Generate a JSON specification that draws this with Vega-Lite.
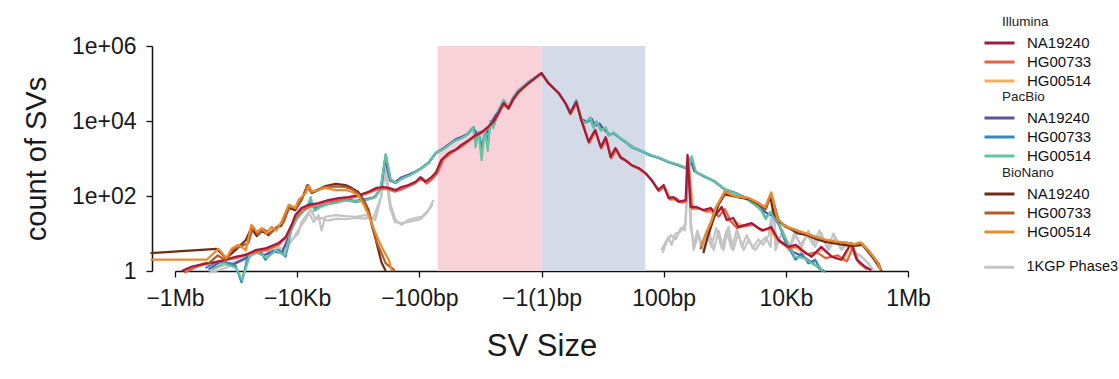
{
"$schema": "https://vega.github.io/schema/vega-lite/v6.json",
"width": 733, "height": 225,
"autosize": {"type": "none"},
"padding": {"left": 175, "top": 46, "right": 211, "bottom": 108},
"background": "white",
"config": {
  "view": {"stroke": null},
  "font": "Liberation Sans",
  "legend": {"orient": "none", "labelFontSize": 15, "labelColor": "#111", "titleFontSize": 13.5, "titleFontWeight": "normal", "titleColor": "#222", "titleAnchor": "start", "titlePadding": 7, "symbolType": "M-5,0H1", "symbolSize": 100, "symbolStrokeWidth": 3, "labelOffset": 10, "rowPadding": 3}
},
"datasets": {
  "bands": [
    {"region": "deletions", "size_log": -1.7, "size_log_end": 0, "count": 1, "count_end": 1000000},
    {"region": "insertions", "size_log": 0, "size_log_end": 1.7, "count": 1, "count_end": 1000000}
  ],
  "lines": [
{"platform":"Illumina","sample":"HG00514","seg":"a","size_log":-5.8,"count":1.1},
{"platform":"Illumina","sample":"HG00514","seg":"a","size_log":-5.5,"count":1.5},
{"platform":"Illumina","sample":"HG00514","seg":"a","size_log":-5.2,"count":1.9},
{"platform":"Illumina","sample":"HG00514","seg":"a","size_log":-4.9,"count":2.6},
{"platform":"Illumina","sample":"HG00514","seg":"a","size_log":-4.6,"count":3.4},
{"platform":"Illumina","sample":"HG00514","seg":"a","size_log":-4.35,"count":5.2},
{"platform":"Illumina","sample":"HG00514","seg":"a","size_log":-4.2,"count":7},
{"platform":"Illumina","sample":"HG00514","seg":"a","size_log":-4.07,"count":20},
{"platform":"Illumina","sample":"HG00514","seg":"a","size_log":-3.95,"count":40},
{"platform":"Illumina","sample":"HG00514","seg":"a","size_log":-3.8,"count":52},
{"platform":"Illumina","sample":"HG00514","seg":"a","size_log":-3.6,"count":62},
{"platform":"Illumina","sample":"HG00514","seg":"a","size_log":-3.4,"count":76},
{"platform":"Illumina","sample":"HG00514","seg":"a","size_log":-3.2,"count":86},
{"platform":"Illumina","sample":"HG00514","seg":"a","size_log":-3.0,"count":98},
{"platform":"Illumina","sample":"HG00514","seg":"a","size_log":-2.8,"count":125},
{"platform":"Illumina","sample":"HG00514","seg":"a","size_log":-2.65,"count":158},
{"platform":"Illumina","sample":"HG00514","seg":"a","size_log":-2.5,"count":150},
{"platform":"Illumina","sample":"HG00514","seg":"a","size_log":-2.35,"count":140},
{"platform":"Illumina","sample":"HG00514","seg":"a","size_log":-2.2,"count":180},
{"platform":"Illumina","sample":"HG00514","seg":"a","size_log":-2.05,"count":230},
{"platform":"Illumina","sample":"HG00514","seg":"a","size_log":-1.95,"count":300},
{"platform":"Illumina","sample":"HG00514","seg":"a","size_log":-1.85,"count":230},
{"platform":"Illumina","sample":"HG00514","seg":"a","size_log":-1.75,"count":330},
{"platform":"Illumina","sample":"HG00514","seg":"a","size_log":-1.65,"count":800},
{"platform":"Illumina","sample":"HG00514","seg":"a","size_log":-1.5,"count":1350},
{"platform":"Illumina","sample":"HG00514","seg":"a","size_log":-1.35,"count":1900},
{"platform":"Illumina","sample":"HG00514","seg":"a","size_log":-1.2,"count":2900},
{"platform":"Illumina","sample":"HG00514","seg":"a","size_log":-1.05,"count":4300},
{"platform":"Illumina","sample":"HG00514","seg":"a","size_log":-0.92,"count":5600},
{"platform":"Illumina","sample":"HG00514","seg":"a","size_log":-0.8,"count":9000},
{"platform":"Illumina","sample":"HG00514","seg":"a","size_log":-0.68,"count":19000},
{"platform":"Illumina","sample":"HG00514","seg":"a","size_log":-0.6,"count":27000},
{"platform":"Illumina","sample":"HG00514","seg":"a","size_log":-0.5,"count":30000},
{"platform":"Illumina","sample":"HG00514","seg":"a","size_log":-0.4,"count":52000},
{"platform":"Illumina","sample":"HG00514","seg":"a","size_log":-0.22,"count":98000},
{"platform":"Illumina","sample":"HG00514","seg":"a","size_log":0,"count":180000},
{"platform":"Illumina","sample":"HG00514","seg":"a","size_log":0.12,"count":98000},
{"platform":"Illumina","sample":"HG00514","seg":"a","size_log":0.3,"count":50000},
{"platform":"Illumina","sample":"HG00514","seg":"a","size_log":0.4,"count":28000},
{"platform":"Illumina","sample":"HG00514","seg":"a","size_log":0.48,"count":15000},
{"platform":"Illumina","sample":"HG00514","seg":"a","size_log":0.58,"count":29000},
{"platform":"Illumina","sample":"HG00514","seg":"a","size_log":0.67,"count":9800},
{"platform":"Illumina","sample":"HG00514","seg":"a","size_log":0.78,"count":2500},
{"platform":"Illumina","sample":"HG00514","seg":"a","size_log":0.89,"count":5000},
{"platform":"Illumina","sample":"HG00514","seg":"a","size_log":0.98,"count":1800},
{"platform":"Illumina","sample":"HG00514","seg":"a","size_log":1.07,"count":3300},
{"platform":"Illumina","sample":"HG00514","seg":"a","size_log":1.15,"count":1050},
{"platform":"Illumina","sample":"HG00514","seg":"a","size_log":1.24,"count":1700},
{"platform":"Illumina","sample":"HG00514","seg":"a","size_log":1.33,"count":980},
{"platform":"Illumina","sample":"HG00514","seg":"a","size_log":1.45,"count":700},
{"platform":"Illumina","sample":"HG00514","seg":"a","size_log":1.58,"count":520},
{"platform":"Illumina","sample":"HG00514","seg":"a","size_log":1.7,"count":390},
{"platform":"Illumina","sample":"HG00514","seg":"a","size_log":1.82,"count":250},
{"platform":"Illumina","sample":"HG00514","seg":"a","size_log":1.93,"count":140},
{"platform":"Illumina","sample":"HG00514","seg":"a","size_log":2.02,"count":170},
{"platform":"Illumina","sample":"HG00514","seg":"a","size_log":2.12,"count":84},
{"platform":"Illumina","sample":"HG00514","seg":"a","size_log":2.25,"count":72},
{"platform":"Illumina","sample":"HG00514","seg":"a","size_log":2.37,"count":74},
{"platform":"Illumina","sample":"HG00514","seg":"a","size_log":2.41,"count":900},
{"platform":"Illumina","sample":"HG00514","seg":"a","size_log":2.48,"count":48},
{"platform":"Illumina","sample":"HG00514","seg":"a","size_log":2.6,"count":45},
{"platform":"Illumina","sample":"HG00514","seg":"a","size_log":2.72,"count":40},
{"platform":"Illumina","sample":"HG00514","seg":"a","size_log":2.83,"count":33},
{"platform":"Illumina","sample":"HG00514","seg":"a","size_log":2.95,"count":46},
{"platform":"Illumina","sample":"HG00514","seg":"a","size_log":3.05,"count":22},
{"platform":"Illumina","sample":"HG00514","seg":"a","size_log":3.18,"count":20},
{"platform":"Illumina","sample":"HG00514","seg":"a","size_log":3.3,"count":16},
{"platform":"Illumina","sample":"HG00514","seg":"a","size_log":3.45,"count":18},
{"platform":"Illumina","sample":"HG00514","seg":"a","size_log":3.58,"count":13},
{"platform":"Illumina","sample":"HG00514","seg":"a","size_log":3.72,"count":13},
{"platform":"Illumina","sample":"HG00514","seg":"a","size_log":3.85,"count":7},
{"platform":"Illumina","sample":"HG00514","seg":"a","size_log":4.0,"count":4.8},
{"platform":"Illumina","sample":"HG00514","seg":"a","size_log":4.15,"count":4.2},
{"platform":"Illumina","sample":"HG00514","seg":"a","size_log":4.3,"count":3},
{"platform":"Illumina","sample":"HG00514","seg":"a","size_log":4.45,"count":2.6},
{"platform":"Illumina","sample":"HG00514","seg":"a","size_log":4.6,"count":3.8},
{"platform":"Illumina","sample":"HG00514","seg":"a","size_log":4.8,"count":2.2},
{"platform":"Illumina","sample":"HG00514","seg":"a","size_log":4.95,"count":1.9},
{"platform":"Illumina","sample":"HG00514","seg":"a","size_log":5.05,"count":4.8},
{"platform":"Illumina","sample":"HG00514","seg":"a","size_log":5.18,"count":1.8},
{"platform":"Illumina","sample":"HG00514","seg":"a","size_log":5.35,"count":1.1},
{"platform":"Illumina","sample":"HG00733","seg":"a","size_log":-5.85,"count":0.9},
{"platform":"Illumina","sample":"HG00733","seg":"a","size_log":-5.6,"count":1.4},
{"platform":"Illumina","sample":"HG00733","seg":"a","size_log":-5.3,"count":1.8},
{"platform":"Illumina","sample":"HG00733","seg":"a","size_log":-5.0,"count":2.2},
{"platform":"Illumina","sample":"HG00733","seg":"a","size_log":-4.75,"count":3},
{"platform":"Illumina","sample":"HG00733","seg":"a","size_log":-4.5,"count":3.6},
{"platform":"Illumina","sample":"HG00733","seg":"a","size_log":-4.3,"count":5},
{"platform":"Illumina","sample":"HG00733","seg":"a","size_log":-4.15,"count":9},
{"platform":"Illumina","sample":"HG00733","seg":"a","size_log":-4.05,"count":22},
{"platform":"Illumina","sample":"HG00733","seg":"a","size_log":-3.93,"count":42},
{"platform":"Illumina","sample":"HG00733","seg":"a","size_log":-3.75,"count":55},
{"platform":"Illumina","sample":"HG00733","seg":"a","size_log":-3.5,"count":70},
{"platform":"Illumina","sample":"HG00733","seg":"a","size_log":-3.3,"count":80},
{"platform":"Illumina","sample":"HG00733","seg":"a","size_log":-3.1,"count":90},
{"platform":"Illumina","sample":"HG00733","seg":"a","size_log":-2.9,"count":112},
{"platform":"Illumina","sample":"HG00733","seg":"a","size_log":-2.7,"count":150},
{"platform":"Illumina","sample":"HG00733","seg":"a","size_log":-2.55,"count":160},
{"platform":"Illumina","sample":"HG00733","seg":"a","size_log":-2.4,"count":130},
{"platform":"Illumina","sample":"HG00733","seg":"a","size_log":-2.25,"count":160},
{"platform":"Illumina","sample":"HG00733","seg":"a","size_log":-2.1,"count":205},
{"platform":"Illumina","sample":"HG00733","seg":"a","size_log":-1.97,"count":290},
{"platform":"Illumina","sample":"HG00733","seg":"a","size_log":-1.88,"count":215},
{"platform":"Illumina","sample":"HG00733","seg":"a","size_log":-1.78,"count":290},
{"platform":"Illumina","sample":"HG00733","seg":"a","size_log":-1.7,"count":420},
{"platform":"Illumina","sample":"HG00733","seg":"a","size_log":-1.6,"count":980},
{"platform":"Illumina","sample":"HG00733","seg":"a","size_log":-1.45,"count":1500},
{"platform":"Illumina","sample":"HG00733","seg":"a","size_log":-1.3,"count":2100},
{"platform":"Illumina","sample":"HG00733","seg":"a","size_log":-1.15,"count":3300},
{"platform":"Illumina","sample":"HG00733","seg":"a","size_log":-1.0,"count":4600},
{"platform":"Illumina","sample":"HG00733","seg":"a","size_log":-0.88,"count":6500},
{"platform":"Illumina","sample":"HG00733","seg":"a","size_log":-0.75,"count":11000},
{"platform":"Illumina","sample":"HG00733","seg":"a","size_log":-0.62,"count":28000},
{"platform":"Illumina","sample":"HG00733","seg":"a","size_log":-0.54,"count":21000},
{"platform":"Illumina","sample":"HG00733","seg":"a","size_log":-0.46,"count":37000},
{"platform":"Illumina","sample":"HG00733","seg":"a","size_log":-0.36,"count":62000},
{"platform":"Illumina","sample":"HG00733","seg":"a","size_log":-0.2,"count":105000},
{"platform":"Illumina","sample":"HG00733","seg":"a","size_log":0,"count":185000},
{"platform":"Illumina","sample":"HG00733","seg":"a","size_log":0.12,"count":100000},
{"platform":"Illumina","sample":"HG00733","seg":"a","size_log":0.28,"count":54000},
{"platform":"Illumina","sample":"HG00733","seg":"a","size_log":0.4,"count":29000},
{"platform":"Illumina","sample":"HG00733","seg":"a","size_log":0.48,"count":15500},
{"platform":"Illumina","sample":"HG00733","seg":"a","size_log":0.57,"count":30000},
{"platform":"Illumina","sample":"HG00733","seg":"a","size_log":0.66,"count":10000},
{"platform":"Illumina","sample":"HG00733","seg":"a","size_log":0.78,"count":2600},
{"platform":"Illumina","sample":"HG00733","seg":"a","size_log":0.88,"count":5400},
{"platform":"Illumina","sample":"HG00733","seg":"a","size_log":0.98,"count":1850},
{"platform":"Illumina","sample":"HG00733","seg":"a","size_log":1.06,"count":3400},
{"platform":"Illumina","sample":"HG00733","seg":"a","size_log":1.14,"count":1000},
{"platform":"Illumina","sample":"HG00733","seg":"a","size_log":1.22,"count":1750},
{"platform":"Illumina","sample":"HG00733","seg":"a","size_log":1.3,"count":1000},
{"platform":"Illumina","sample":"HG00733","seg":"a","size_log":1.4,"count":850},
{"platform":"Illumina","sample":"HG00733","seg":"a","size_log":1.5,"count":620},
{"platform":"Illumina","sample":"HG00733","seg":"a","size_log":1.62,"count":510},
{"platform":"Illumina","sample":"HG00733","seg":"a","size_log":1.72,"count":380},
{"platform":"Illumina","sample":"HG00733","seg":"a","size_log":1.82,"count":240},
{"platform":"Illumina","sample":"HG00733","seg":"a","size_log":1.92,"count":135},
{"platform":"Illumina","sample":"HG00733","seg":"a","size_log":2.0,"count":180},
{"platform":"Illumina","sample":"HG00733","seg":"a","size_log":2.1,"count":80},
{"platform":"Illumina","sample":"HG00733","seg":"a","size_log":2.2,"count":88},
{"platform":"Illumina","sample":"HG00733","seg":"a","size_log":2.3,"count":66},
{"platform":"Illumina","sample":"HG00733","seg":"a","size_log":2.37,"count":72},
{"platform":"Illumina","sample":"HG00733","seg":"a","size_log":2.4,"count":1100},
{"platform":"Illumina","sample":"HG00733","seg":"a","size_log":2.46,"count":46},
{"platform":"Illumina","sample":"HG00733","seg":"a","size_log":2.58,"count":47},
{"platform":"Illumina","sample":"HG00733","seg":"a","size_log":2.7,"count":38},
{"platform":"Illumina","sample":"HG00733","seg":"a","size_log":2.8,"count":44},
{"platform":"Illumina","sample":"HG00733","seg":"a","size_log":2.9,"count":28},
{"platform":"Illumina","sample":"HG00733","seg":"a","size_log":3.0,"count":45},
{"platform":"Illumina","sample":"HG00733","seg":"a","size_log":3.1,"count":21},
{"platform":"Illumina","sample":"HG00733","seg":"a","size_log":3.2,"count":14},
{"platform":"Illumina","sample":"HG00733","seg":"a","size_log":3.35,"count":16},
{"platform":"Illumina","sample":"HG00733","seg":"a","size_log":3.48,"count":17},
{"platform":"Illumina","sample":"HG00733","seg":"a","size_log":3.6,"count":12},
{"platform":"Illumina","sample":"HG00733","seg":"a","size_log":3.75,"count":14},
{"platform":"Illumina","sample":"HG00733","seg":"a","size_log":3.9,"count":6},
{"platform":"Illumina","sample":"HG00733","seg":"a","size_log":4.05,"count":4},
{"platform":"Illumina","sample":"HG00733","seg":"a","size_log":4.2,"count":4.6},
{"platform":"Illumina","sample":"HG00733","seg":"a","size_log":4.35,"count":2.8},
{"platform":"Illumina","sample":"HG00733","seg":"a","size_log":4.5,"count":3.2},
{"platform":"Illumina","sample":"HG00733","seg":"a","size_log":4.65,"count":2.2},
{"platform":"Illumina","sample":"HG00733","seg":"a","size_log":4.85,"count":2.6},
{"platform":"Illumina","sample":"HG00733","seg":"a","size_log":5.0,"count":1.8},
{"platform":"Illumina","sample":"HG00733","seg":"a","size_log":5.1,"count":4.4},
{"platform":"Illumina","sample":"HG00733","seg":"a","size_log":5.2,"count":1.6},
{"platform":"Illumina","sample":"HG00733","seg":"a","size_log":5.33,"count":1.1},
{"platform":"Illumina","sample":"NA19240","seg":"a","size_log":-5.89,"count":1},
{"platform":"Illumina","sample":"NA19240","seg":"a","size_log":-5.73,"count":1.3},
{"platform":"Illumina","sample":"NA19240","seg":"a","size_log":-5.5,"count":1.6},
{"platform":"Illumina","sample":"NA19240","seg":"a","size_log":-5.34,"count":1.7},
{"platform":"Illumina","sample":"NA19240","seg":"a","size_log":-5.17,"count":2},
{"platform":"Illumina","sample":"NA19240","seg":"a","size_log":-5.01,"count":2.4},
{"platform":"Illumina","sample":"NA19240","seg":"a","size_log":-4.84,"count":2.7},
{"platform":"Illumina","sample":"NA19240","seg":"a","size_log":-4.68,"count":3.6},
{"platform":"Illumina","sample":"NA19240","seg":"a","size_log":-4.52,"count":4},
{"platform":"Illumina","sample":"NA19240","seg":"a","size_log":-4.3,"count":5.6},
{"platform":"Illumina","sample":"NA19240","seg":"a","size_log":-4.19,"count":8},
{"platform":"Illumina","sample":"NA19240","seg":"a","size_log":-4.09,"count":17},
{"platform":"Illumina","sample":"NA19240","seg":"a","size_log":-4.03,"count":31},
{"platform":"Illumina","sample":"NA19240","seg":"a","size_log":-3.93,"count":48},
{"platform":"Illumina","sample":"NA19240","seg":"a","size_log":-3.81,"count":58},
{"platform":"Illumina","sample":"NA19240","seg":"a","size_log":-3.65,"count":65},
{"platform":"Illumina","sample":"NA19240","seg":"a","size_log":-3.49,"count":78},
{"platform":"Illumina","sample":"NA19240","seg":"a","size_log":-3.32,"count":88},
{"platform":"Illumina","sample":"NA19240","seg":"a","size_log":-3.16,"count":94},
{"platform":"Illumina","sample":"NA19240","seg":"a","size_log":-3.0,"count":105},
{"platform":"Illumina","sample":"NA19240","seg":"a","size_log":-2.83,"count":130},
{"platform":"Illumina","sample":"NA19240","seg":"a","size_log":-2.7,"count":165},
{"platform":"Illumina","sample":"NA19240","seg":"a","size_log":-2.59,"count":174},
{"platform":"Illumina","sample":"NA19240","seg":"a","size_log":-2.5,"count":165},
{"platform":"Illumina","sample":"NA19240","seg":"a","size_log":-2.39,"count":144},
{"platform":"Illumina","sample":"NA19240","seg":"a","size_log":-2.29,"count":174},
{"platform":"Illumina","sample":"NA19240","seg":"a","size_log":-2.18,"count":196},
{"platform":"Illumina","sample":"NA19240","seg":"a","size_log":-2.06,"count":240},
{"platform":"Illumina","sample":"NA19240","seg":"a","size_log":-1.98,"count":320},
{"platform":"Illumina","sample":"NA19240","seg":"a","size_log":-1.9,"count":240},
{"platform":"Illumina","sample":"NA19240","seg":"a","size_log":-1.8,"count":320},
{"platform":"Illumina","sample":"NA19240","seg":"a","size_log":-1.73,"count":420},
{"platform":"Illumina","sample":"NA19240","seg":"a","size_log":-1.64,"count":910},
{"platform":"Illumina","sample":"NA19240","seg":"a","size_log":-1.52,"count":1400},
{"platform":"Illumina","sample":"NA19240","seg":"a","size_log":-1.41,"count":1700},
{"platform":"Illumina","sample":"NA19240","seg":"a","size_log":-1.31,"count":2300},
{"platform":"Illumina","sample":"NA19240","seg":"a","size_log":-1.19,"count":3100},
{"platform":"Illumina","sample":"NA19240","seg":"a","size_log":-1.08,"count":4200},
{"platform":"Illumina","sample":"NA19240","seg":"a","size_log":-0.98,"count":5000},
{"platform":"Illumina","sample":"NA19240","seg":"a","size_log":-0.88,"count":6900},
{"platform":"Illumina","sample":"NA19240","seg":"a","size_log":-0.79,"count":9500},
{"platform":"Illumina","sample":"NA19240","seg":"a","size_log":-0.7,"count":17000},
{"platform":"Illumina","sample":"NA19240","seg":"a","size_log":-0.62,"count":30000},
{"platform":"Illumina","sample":"NA19240","seg":"a","size_log":-0.54,"count":22000},
{"platform":"Illumina","sample":"NA19240","seg":"a","size_log":-0.46,"count":39000},
{"platform":"Illumina","sample":"NA19240","seg":"a","size_log":-0.38,"count":59000},
{"platform":"Illumina","sample":"NA19240","seg":"a","size_log":-0.21,"count":103000},
{"platform":"Illumina","sample":"NA19240","seg":"a","size_log":0,"count":190000},
{"platform":"Illumina","sample":"NA19240","seg":"a","size_log":0.11,"count":103000},
{"platform":"Illumina","sample":"NA19240","seg":"a","size_log":0.28,"count":56000},
{"platform":"Illumina","sample":"NA19240","seg":"a","size_log":0.39,"count":30000},
{"platform":"Illumina","sample":"NA19240","seg":"a","size_log":0.47,"count":16000},
{"platform":"Illumina","sample":"NA19240","seg":"a","size_log":0.57,"count":32000},
{"platform":"Illumina","sample":"NA19240","seg":"a","size_log":0.65,"count":10700},
{"platform":"Illumina","sample":"NA19240","seg":"a","size_log":0.77,"count":2800},
{"platform":"Illumina","sample":"NA19240","seg":"a","size_log":0.88,"count":5800},
{"platform":"Illumina","sample":"NA19240","seg":"a","size_log":0.97,"count":2000},
{"platform":"Illumina","sample":"NA19240","seg":"a","size_log":1.05,"count":3700},
{"platform":"Illumina","sample":"NA19240","seg":"a","size_log":1.13,"count":1100},
{"platform":"Illumina","sample":"NA19240","seg":"a","size_log":1.21,"count":1900},
{"platform":"Illumina","sample":"NA19240","seg":"a","size_log":1.29,"count":1100},
{"platform":"Illumina","sample":"NA19240","seg":"a","size_log":1.37,"count":910},
{"platform":"Illumina","sample":"NA19240","seg":"a","size_log":1.47,"count":670},
{"platform":"Illumina","sample":"NA19240","seg":"a","size_log":1.59,"count":560},
{"platform":"Illumina","sample":"NA19240","seg":"a","size_log":1.7,"count":410},
{"platform":"Illumina","sample":"NA19240","seg":"a","size_log":1.8,"count":268},
{"platform":"Illumina","sample":"NA19240","seg":"a","size_log":1.91,"count":144},
{"platform":"Illumina","sample":"NA19240","seg":"a","size_log":2.0,"count":196},
{"platform":"Illumina","sample":"NA19240","seg":"a","size_log":2.08,"count":88},
{"platform":"Illumina","sample":"NA19240","seg":"a","size_log":2.16,"count":94},
{"platform":"Illumina","sample":"NA19240","seg":"a","size_log":2.24,"count":70},
{"platform":"Illumina","sample":"NA19240","seg":"a","size_log":2.36,"count":78},
{"platform":"Illumina","sample":"NA19240","seg":"a","size_log":2.39,"count":1250},
{"platform":"Illumina","sample":"NA19240","seg":"a","size_log":2.44,"count":51},
{"platform":"Illumina","sample":"NA19240","seg":"a","size_log":2.54,"count":51},
{"platform":"Illumina","sample":"NA19240","seg":"a","size_log":2.65,"count":42},
{"platform":"Illumina","sample":"NA19240","seg":"a","size_log":2.77,"count":48},
{"platform":"Illumina","sample":"NA19240","seg":"a","size_log":2.85,"count":31},
{"platform":"Illumina","sample":"NA19240","seg":"a","size_log":2.95,"count":51},
{"platform":"Illumina","sample":"NA19240","seg":"a","size_log":3.03,"count":23},
{"platform":"Illumina","sample":"NA19240","seg":"a","size_log":3.14,"count":26},
{"platform":"Illumina","sample":"NA19240","seg":"a","size_log":3.22,"count":15},
{"platform":"Illumina","sample":"NA19240","seg":"a","size_log":3.34,"count":17},
{"platform":"Illumina","sample":"NA19240","seg":"a","size_log":3.44,"count":19},
{"platform":"Illumina","sample":"NA19240","seg":"a","size_log":3.55,"count":14},
{"platform":"Illumina","sample":"NA19240","seg":"a","size_log":3.63,"count":12},
{"platform":"Illumina","sample":"NA19240","seg":"a","size_log":3.76,"count":15},
{"platform":"Illumina","sample":"NA19240","seg":"a","size_log":3.88,"count":6.7},
{"platform":"Illumina","sample":"NA19240","seg":"a","size_log":4.04,"count":4.4},
{"platform":"Illumina","sample":"NA19240","seg":"a","size_log":4.16,"count":5},
{"platform":"Illumina","sample":"NA19240","seg":"a","size_log":4.26,"count":3.6},
{"platform":"Illumina","sample":"NA19240","seg":"a","size_log":4.42,"count":2.4},
{"platform":"Illumina","sample":"NA19240","seg":"a","size_log":4.58,"count":4.4},
{"platform":"Illumina","sample":"NA19240","seg":"a","size_log":4.75,"count":2.4},
{"platform":"Illumina","sample":"NA19240","seg":"a","size_log":4.91,"count":2},
{"platform":"Illumina","sample":"NA19240","seg":"a","size_log":5.07,"count":5.6},
{"platform":"Illumina","sample":"NA19240","seg":"a","size_log":5.16,"count":2},
{"platform":"Illumina","sample":"NA19240","seg":"a","size_log":5.3,"count":1.3},
{"platform":"Illumina","sample":"NA19240","seg":"a","size_log":5.4,"count":1.05},
{"platform":"PacBio","sample":"NA19240","seg":"a","size_log":-5.45,"count":1.1},
{"platform":"PacBio","sample":"NA19240","seg":"a","size_log":-5.25,"count":1.8},
{"platform":"PacBio","sample":"NA19240","seg":"a","size_log":-5.05,"count":1.5},
{"platform":"PacBio","sample":"NA19240","seg":"a","size_log":-4.85,"count":2.2},
{"platform":"PacBio","sample":"NA19240","seg":"a","size_log":-4.7,"count":3.3},
{"platform":"PacBio","sample":"NA19240","seg":"a","size_log":-4.55,"count":2.6},
{"platform":"PacBio","sample":"NA19240","seg":"a","size_log":-4.4,"count":3.4},
{"platform":"PacBio","sample":"NA19240","seg":"a","size_log":-4.25,"count":3},
{"platform":"PacBio","sample":"NA19240","seg":"a","size_log":-4.12,"count":10},
{"platform":"PacBio","sample":"NA19240","seg":"a","size_log":-4.02,"count":24},
{"platform":"PacBio","sample":"NA19240","seg":"a","size_log":-3.9,"count":40},
{"platform":"PacBio","sample":"NA19240","seg":"a","size_log":-3.78,"count":55},
{"platform":"PacBio","sample":"NA19240","seg":"a","size_log":-3.68,"count":48},
{"platform":"PacBio","sample":"NA19240","seg":"a","size_log":-3.55,"count":60},
{"platform":"PacBio","sample":"NA19240","seg":"a","size_log":-3.4,"count":72},
{"platform":"PacBio","sample":"NA19240","seg":"a","size_log":-3.22,"count":80},
{"platform":"PacBio","sample":"NA19240","seg":"a","size_log":-3.05,"count":74},
{"platform":"PacBio","sample":"NA19240","seg":"a","size_log":-2.9,"count":80},
{"platform":"PacBio","sample":"NA19240","seg":"a","size_log":-2.74,"count":92},
{"platform":"PacBio","sample":"NA19240","seg":"a","size_log":-2.63,"count":160},
{"platform":"PacBio","sample":"NA19240","seg":"a","size_log":-2.56,"count":1000},
{"platform":"PacBio","sample":"NA19240","seg":"a","size_log":-2.48,"count":260},
{"platform":"PacBio","sample":"NA19240","seg":"a","size_log":-2.4,"count":230},
{"platform":"PacBio","sample":"NA19240","seg":"a","size_log":-2.3,"count":310},
{"platform":"PacBio","sample":"NA19240","seg":"a","size_log":-2.18,"count":370},
{"platform":"PacBio","sample":"NA19240","seg":"a","size_log":-2.05,"count":460},
{"platform":"PacBio","sample":"NA19240","seg":"a","size_log":-1.95,"count":580},
{"platform":"PacBio","sample":"NA19240","seg":"a","size_log":-1.84,"count":800},
{"platform":"PacBio","sample":"NA19240","seg":"a","size_log":-1.72,"count":1450},
{"platform":"PacBio","sample":"NA19240","seg":"a","size_log":-1.62,"count":1800},
{"platform":"PacBio","sample":"NA19240","seg":"a","size_log":-1.5,"count":2500},
{"platform":"PacBio","sample":"NA19240","seg":"a","size_log":-1.4,"count":3300},
{"platform":"PacBio","sample":"NA19240","seg":"a","size_log":-1.3,"count":3800},
{"platform":"PacBio","sample":"NA19240","seg":"a","size_log":-1.2,"count":4600},
{"platform":"PacBio","sample":"NA19240","seg":"a","size_log":-1.12,"count":6500},
{"platform":"PacBio","sample":"NA19240","seg":"a","size_log":-1.05,"count":4500},
{"platform":"PacBio","sample":"NA19240","seg":"a","size_log":-0.98,"count":5200},
{"platform":"PacBio","sample":"NA19240","seg":"a","size_log":-0.9,"count":4800},
{"platform":"PacBio","sample":"NA19240","seg":"a","size_log":-0.82,"count":9500},
{"platform":"PacBio","sample":"NA19240","seg":"a","size_log":-0.72,"count":17000},
{"platform":"PacBio","sample":"NA19240","seg":"a","size_log":-0.62,"count":34000},
{"platform":"PacBio","sample":"NA19240","seg":"a","size_log":-0.54,"count":24000},
{"platform":"PacBio","sample":"NA19240","seg":"a","size_log":-0.46,"count":42000},
{"platform":"PacBio","sample":"NA19240","seg":"a","size_log":-0.37,"count":64000},
{"platform":"PacBio","sample":"NA19240","seg":"a","size_log":-0.2,"count":112000},
{"platform":"PacBio","sample":"NA19240","seg":"a","size_log":0,"count":188000},
{"platform":"PacBio","sample":"NA19240","seg":"a","size_log":0.12,"count":100000},
{"platform":"PacBio","sample":"NA19240","seg":"a","size_log":0.28,"count":55000},
{"platform":"PacBio","sample":"NA19240","seg":"a","size_log":0.4,"count":29000},
{"platform":"PacBio","sample":"NA19240","seg":"a","size_log":0.47,"count":17000},
{"platform":"PacBio","sample":"NA19240","seg":"a","size_log":0.57,"count":34000},
{"platform":"PacBio","sample":"NA19240","seg":"a","size_log":0.66,"count":11000},
{"platform":"PacBio","sample":"NA19240","seg":"a","size_log":0.75,"count":9500},
{"platform":"PacBio","sample":"NA19240","seg":"a","size_log":0.82,"count":11500},
{"platform":"PacBio","sample":"NA19240","seg":"a","size_log":0.88,"count":7500},
{"platform":"PacBio","sample":"NA19240","seg":"a","size_log":0.95,"count":8500},
{"platform":"PacBio","sample":"NA19240","seg":"a","size_log":1.02,"count":6000},
{"platform":"PacBio","sample":"NA19240","seg":"a","size_log":1.1,"count":4500},
{"platform":"PacBio","sample":"NA19240","seg":"a","size_log":1.2,"count":4500},
{"platform":"PacBio","sample":"NA19240","seg":"a","size_log":1.3,"count":3400},
{"platform":"PacBio","sample":"NA19240","seg":"a","size_log":1.4,"count":2600},
{"platform":"PacBio","sample":"NA19240","seg":"a","size_log":1.52,"count":1900},
{"platform":"PacBio","sample":"NA19240","seg":"a","size_log":1.65,"count":1550},
{"platform":"PacBio","sample":"NA19240","seg":"a","size_log":1.8,"count":1200},
{"platform":"PacBio","sample":"NA19240","seg":"a","size_log":1.95,"count":1000},
{"platform":"PacBio","sample":"NA19240","seg":"a","size_log":2.1,"count":780},
{"platform":"PacBio","sample":"NA19240","seg":"a","size_log":2.25,"count":650},
{"platform":"PacBio","sample":"NA19240","seg":"a","size_log":2.37,"count":540},
{"platform":"PacBio","sample":"NA19240","seg":"a","size_log":2.44,"count":900},
{"platform":"PacBio","sample":"NA19240","seg":"a","size_log":2.5,"count":460},
{"platform":"PacBio","sample":"NA19240","seg":"a","size_log":2.65,"count":340},
{"platform":"PacBio","sample":"NA19240","seg":"a","size_log":2.82,"count":250},
{"platform":"PacBio","sample":"NA19240","seg":"a","size_log":3.0,"count":150},
{"platform":"PacBio","sample":"NA19240","seg":"a","size_log":3.15,"count":125},
{"platform":"PacBio","sample":"NA19240","seg":"a","size_log":3.3,"count":95},
{"platform":"PacBio","sample":"NA19240","seg":"a","size_log":3.48,"count":62},
{"platform":"PacBio","sample":"NA19240","seg":"a","size_log":3.6,"count":45},
{"platform":"PacBio","sample":"NA19240","seg":"a","size_log":3.7,"count":34},
{"platform":"PacBio","sample":"NA19240","seg":"a","size_log":3.8,"count":30},
{"platform":"PacBio","sample":"NA19240","seg":"a","size_log":3.9,"count":16},
{"platform":"PacBio","sample":"NA19240","seg":"a","size_log":4.0,"count":6},
{"platform":"PacBio","sample":"NA19240","seg":"a","size_log":4.12,"count":3.2},
{"platform":"PacBio","sample":"NA19240","seg":"a","size_log":4.25,"count":2.6},
{"platform":"PacBio","sample":"NA19240","seg":"a","size_log":4.4,"count":1.8},
{"platform":"PacBio","sample":"NA19240","seg":"a","size_log":4.55,"count":1.2},
{"platform":"PacBio","sample":"NA19240","seg":"a","size_log":4.62,"count":1},
{"platform":"PacBio","sample":"HG00733","seg":"a","size_log":-5.5,"count":1.2},
{"platform":"PacBio","sample":"HG00733","seg":"a","size_log":-5.34,"count":1.7},
{"platform":"PacBio","sample":"HG00733","seg":"a","size_log":-5.17,"count":1.7},
{"platform":"PacBio","sample":"HG00733","seg":"a","size_log":-5.01,"count":1.4},
{"platform":"PacBio","sample":"HG00733","seg":"a","size_log":-4.91,"count":0.5},
{"platform":"PacBio","sample":"HG00733","seg":"a","size_log":-4.8,"count":2.7},
{"platform":"PacBio","sample":"HG00733","seg":"a","size_log":-4.68,"count":3.6},
{"platform":"PacBio","sample":"HG00733","seg":"a","size_log":-4.58,"count":3},
{"platform":"PacBio","sample":"HG00733","seg":"a","size_log":-4.52,"count":2},
{"platform":"PacBio","sample":"HG00733","seg":"a","size_log":-4.42,"count":3.2},
{"platform":"PacBio","sample":"HG00733","seg":"a","size_log":-4.3,"count":3.6},
{"platform":"PacBio","sample":"HG00733","seg":"a","size_log":-4.19,"count":2.4},
{"platform":"PacBio","sample":"HG00733","seg":"a","size_log":-4.09,"count":15},
{"platform":"PacBio","sample":"HG00733","seg":"a","size_log":-4.01,"count":26},
{"platform":"PacBio","sample":"HG00733","seg":"a","size_log":-3.93,"count":35},
{"platform":"PacBio","sample":"HG00733","seg":"a","size_log":-3.85,"count":50},
{"platform":"PacBio","sample":"HG00733","seg":"a","size_log":-3.78,"count":70},
{"platform":"PacBio","sample":"HG00733","seg":"a","size_log":-3.7,"count":42},
{"platform":"PacBio","sample":"HG00733","seg":"a","size_log":-3.65,"count":51},
{"platform":"PacBio","sample":"HG00733","seg":"a","size_log":-3.54,"count":58},
{"platform":"PacBio","sample":"HG00733","seg":"a","size_log":-3.37,"count":70},
{"platform":"PacBio","sample":"HG00733","seg":"a","size_log":-3.21,"count":78},
{"platform":"PacBio","sample":"HG00733","seg":"a","size_log":-3.04,"count":70},
{"platform":"PacBio","sample":"HG00733","seg":"a","size_log":-2.88,"count":78},
{"platform":"PacBio","sample":"HG00733","seg":"a","size_log":-2.72,"count":94},
{"platform":"PacBio","sample":"HG00733","seg":"a","size_log":-2.62,"count":174},
{"platform":"PacBio","sample":"HG00733","seg":"a","size_log":-2.55,"count":1250},
{"platform":"PacBio","sample":"HG00733","seg":"a","size_log":-2.47,"count":268},
{"platform":"PacBio","sample":"HG00733","seg":"a","size_log":-2.39,"count":220},
{"platform":"PacBio","sample":"HG00733","seg":"a","size_log":-2.29,"count":300},
{"platform":"PacBio","sample":"HG00733","seg":"a","size_log":-2.18,"count":360},
{"platform":"PacBio","sample":"HG00733","seg":"a","size_log":-2.06,"count":440},
{"platform":"PacBio","sample":"HG00733","seg":"a","size_log":-1.96,"count":560},
{"platform":"PacBio","sample":"HG00733","seg":"a","size_log":-1.85,"count":760},
{"platform":"PacBio","sample":"HG00733","seg":"a","size_log":-1.73,"count":1400},
{"platform":"PacBio","sample":"HG00733","seg":"a","size_log":-1.64,"count":1700},
{"platform":"PacBio","sample":"HG00733","seg":"a","size_log":-1.52,"count":2300},
{"platform":"PacBio","sample":"HG00733","seg":"a","size_log":-1.41,"count":3100},
{"platform":"PacBio","sample":"HG00733","seg":"a","size_log":-1.31,"count":3500},
{"platform":"PacBio","sample":"HG00733","seg":"a","size_log":-1.23,"count":4200},
{"platform":"PacBio","sample":"HG00733","seg":"a","size_log":-1.16,"count":5800},
{"platform":"PacBio","sample":"HG00733","seg":"a","size_log":-1.11,"count":6900},
{"platform":"PacBio","sample":"HG00733","seg":"a","size_log":-1.08,"count":3000},
{"platform":"PacBio","sample":"HG00733","seg":"a","size_log":-1.03,"count":5000},
{"platform":"PacBio","sample":"HG00733","seg":"a","size_log":-0.98,"count":2000},
{"platform":"PacBio","sample":"HG00733","seg":"a","size_log":-0.92,"count":5800},
{"platform":"PacBio","sample":"HG00733","seg":"a","size_log":-0.88,"count":2600},
{"platform":"PacBio","sample":"HG00733","seg":"a","size_log":-0.83,"count":10000},
{"platform":"PacBio","sample":"HG00733","seg":"a","size_log":-0.79,"count":6900},
{"platform":"PacBio","sample":"HG00733","seg":"a","size_log":-0.7,"count":19500},
{"platform":"PacBio","sample":"HG00733","seg":"a","size_log":-0.62,"count":36000},
{"platform":"PacBio","sample":"HG00733","seg":"a","size_log":-0.54,"count":22000},
{"platform":"PacBio","sample":"HG00733","seg":"a","size_log":-0.46,"count":44000},
{"platform":"PacBio","sample":"HG00733","seg":"a","size_log":-0.38,"count":66000},
{"platform":"PacBio","sample":"HG00733","seg":"a","size_log":-0.21,"count":110000},
{"platform":"PacBio","sample":"HG00733","seg":"a","size_log":0,"count":190000},
{"platform":"PacBio","sample":"HG00733","seg":"a","size_log":0.11,"count":103000},
{"platform":"PacBio","sample":"HG00733","seg":"a","size_log":0.28,"count":56000},
{"platform":"PacBio","sample":"HG00733","seg":"a","size_log":0.39,"count":30000},
{"platform":"PacBio","sample":"HG00733","seg":"a","size_log":0.47,"count":16000},
{"platform":"PacBio","sample":"HG00733","seg":"a","size_log":0.57,"count":36000},
{"platform":"PacBio","sample":"HG00733","seg":"a","size_log":0.65,"count":10700},
{"platform":"PacBio","sample":"HG00733","seg":"a","size_log":0.72,"count":8900},
{"platform":"PacBio","sample":"HG00733","seg":"a","size_log":0.8,"count":12000},
{"platform":"PacBio","sample":"HG00733","seg":"a","size_log":0.85,"count":6900},
{"platform":"PacBio","sample":"HG00733","seg":"a","size_log":0.9,"count":9500},
{"platform":"PacBio","sample":"HG00733","seg":"a","size_log":0.97,"count":5800},
{"platform":"PacBio","sample":"HG00733","seg":"a","size_log":1.05,"count":6500},
{"platform":"PacBio","sample":"HG00733","seg":"a","size_log":1.1,"count":4200},
{"platform":"PacBio","sample":"HG00733","seg":"a","size_log":1.18,"count":4800},
{"platform":"PacBio","sample":"HG00733","seg":"a","size_log":1.26,"count":3700},
{"platform":"PacBio","sample":"HG00733","seg":"a","size_log":1.37,"count":2800},
{"platform":"PacBio","sample":"HG00733","seg":"a","size_log":1.47,"count":2000},
{"platform":"PacBio","sample":"HG00733","seg":"a","size_log":1.59,"count":1700},
{"platform":"PacBio","sample":"HG00733","seg":"a","size_log":1.75,"count":1250},
{"platform":"PacBio","sample":"HG00733","seg":"a","size_log":1.91,"count":1050},
{"platform":"PacBio","sample":"HG00733","seg":"a","size_log":2.08,"count":800},
{"platform":"PacBio","sample":"HG00733","seg":"a","size_log":2.24,"count":670},
{"platform":"PacBio","sample":"HG00733","seg":"a","size_log":2.36,"count":560},
{"platform":"PacBio","sample":"HG00733","seg":"a","size_log":2.45,"count":1050},
{"platform":"PacBio","sample":"HG00733","seg":"a","size_log":2.52,"count":440},
{"platform":"PacBio","sample":"HG00733","seg":"a","size_log":2.68,"count":320},
{"platform":"PacBio","sample":"HG00733","seg":"a","size_log":2.85,"count":240},
{"platform":"PacBio","sample":"HG00733","seg":"a","size_log":3.01,"count":144},
{"platform":"PacBio","sample":"HG00733","seg":"a","size_log":3.18,"count":120},
{"platform":"PacBio","sample":"HG00733","seg":"a","size_log":3.34,"count":88},
{"platform":"PacBio","sample":"HG00733","seg":"a","size_log":3.5,"count":58},
{"platform":"PacBio","sample":"HG00733","seg":"a","size_log":3.6,"count":42},
{"platform":"PacBio","sample":"HG00733","seg":"a","size_log":3.67,"count":26},
{"platform":"PacBio","sample":"HG00733","seg":"a","size_log":3.75,"count":37},
{"platform":"PacBio","sample":"HG00733","seg":"a","size_log":3.88,"count":18},
{"platform":"PacBio","sample":"HG00733","seg":"a","size_log":3.97,"count":8},
{"platform":"PacBio","sample":"HG00733","seg":"a","size_log":4.04,"count":4.4},
{"platform":"PacBio","sample":"HG00733","seg":"a","size_log":4.16,"count":2},
{"platform":"PacBio","sample":"HG00733","seg":"a","size_log":4.26,"count":3},
{"platform":"PacBio","sample":"HG00733","seg":"a","size_log":4.37,"count":1.6},
{"platform":"PacBio","sample":"HG00733","seg":"a","size_log":4.48,"count":2},
{"platform":"PacBio","sample":"HG00733","seg":"a","size_log":4.58,"count":1.05},
{"platform":"PacBio","sample":"HG00733","seg":"a","size_log":4.65,"count":0.95},
{"platform":"PacBio","sample":"HG00514","seg":"a","size_log":-5.4,"count":1.1},
{"platform":"PacBio","sample":"HG00514","seg":"a","size_log":-5.2,"count":1.6},
{"platform":"PacBio","sample":"HG00514","seg":"a","size_log":-5.0,"count":1.2},
{"platform":"PacBio","sample":"HG00514","seg":"a","size_log":-4.9,"count":0.57},
{"platform":"PacBio","sample":"HG00514","seg":"a","size_log":-4.78,"count":2.5},
{"platform":"PacBio","sample":"HG00514","seg":"a","size_log":-4.65,"count":3.2},
{"platform":"PacBio","sample":"HG00514","seg":"a","size_log":-4.5,"count":2.2},
{"platform":"PacBio","sample":"HG00514","seg":"a","size_log":-4.35,"count":3.5},
{"platform":"PacBio","sample":"HG00514","seg":"a","size_log":-4.2,"count":2.6},
{"platform":"PacBio","sample":"HG00514","seg":"a","size_log":-4.1,"count":12},
{"platform":"PacBio","sample":"HG00514","seg":"a","size_log":-4.0,"count":25},
{"platform":"PacBio","sample":"HG00514","seg":"a","size_log":-3.9,"count":38},
{"platform":"PacBio","sample":"HG00514","seg":"a","size_log":-3.82,"count":60},
{"platform":"PacBio","sample":"HG00514","seg":"a","size_log":-3.78,"count":94},
{"platform":"PacBio","sample":"HG00514","seg":"a","size_log":-3.72,"count":40},
{"platform":"PacBio","sample":"HG00514","seg":"a","size_log":-3.62,"count":50},
{"platform":"PacBio","sample":"HG00514","seg":"a","size_log":-3.5,"count":60},
{"platform":"PacBio","sample":"HG00514","seg":"a","size_log":-3.35,"count":66},
{"platform":"PacBio","sample":"HG00514","seg":"a","size_log":-3.2,"count":76},
{"platform":"PacBio","sample":"HG00514","seg":"a","size_log":-3.05,"count":72},
{"platform":"PacBio","sample":"HG00514","seg":"a","size_log":-2.9,"count":76},
{"platform":"PacBio","sample":"HG00514","seg":"a","size_log":-2.73,"count":90},
{"platform":"PacBio","sample":"HG00514","seg":"a","size_log":-2.63,"count":180},
{"platform":"PacBio","sample":"HG00514","seg":"a","size_log":-2.55,"count":1300},
{"platform":"PacBio","sample":"HG00514","seg":"a","size_log":-2.47,"count":280},
{"platform":"PacBio","sample":"HG00514","seg":"a","size_log":-2.38,"count":225},
{"platform":"PacBio","sample":"HG00514","seg":"a","size_log":-2.28,"count":290},
{"platform":"PacBio","sample":"HG00514","seg":"a","size_log":-2.16,"count":350},
{"platform":"PacBio","sample":"HG00514","seg":"a","size_log":-2.04,"count":450},
{"platform":"PacBio","sample":"HG00514","seg":"a","size_log":-1.94,"count":580},
{"platform":"PacBio","sample":"HG00514","seg":"a","size_log":-1.84,"count":780},
{"platform":"PacBio","sample":"HG00514","seg":"a","size_log":-1.73,"count":1450},
{"platform":"PacBio","sample":"HG00514","seg":"a","size_log":-1.63,"count":1650},
{"platform":"PacBio","sample":"HG00514","seg":"a","size_log":-1.52,"count":2200},
{"platform":"PacBio","sample":"HG00514","seg":"a","size_log":-1.42,"count":2900},
{"platform":"PacBio","sample":"HG00514","seg":"a","size_log":-1.32,"count":3400},
{"platform":"PacBio","sample":"HG00514","seg":"a","size_log":-1.24,"count":4000},
{"platform":"PacBio","sample":"HG00514","seg":"a","size_log":-1.17,"count":5500},
{"platform":"PacBio","sample":"HG00514","seg":"a","size_log":-1.12,"count":6900},
{"platform":"PacBio","sample":"HG00514","seg":"a","size_log":-1.08,"count":2000},
{"platform":"PacBio","sample":"HG00514","seg":"a","size_log":-1.03,"count":5200},
{"platform":"PacBio","sample":"HG00514","seg":"a","size_log":-0.98,"count":910},
{"platform":"PacBio","sample":"HG00514","seg":"a","size_log":-0.93,"count":5800},
{"platform":"PacBio","sample":"HG00514","seg":"a","size_log":-0.88,"count":1600},
{"platform":"PacBio","sample":"HG00514","seg":"a","size_log":-0.84,"count":9500},
{"platform":"PacBio","sample":"HG00514","seg":"a","size_log":-0.79,"count":6500},
{"platform":"PacBio","sample":"HG00514","seg":"a","size_log":-0.7,"count":20000},
{"platform":"PacBio","sample":"HG00514","seg":"a","size_log":-0.62,"count":35000},
{"platform":"PacBio","sample":"HG00514","seg":"a","size_log":-0.54,"count":21000},
{"platform":"PacBio","sample":"HG00514","seg":"a","size_log":-0.46,"count":43000},
{"platform":"PacBio","sample":"HG00514","seg":"a","size_log":-0.38,"count":65000},
{"platform":"PacBio","sample":"HG00514","seg":"a","size_log":-0.21,"count":108000},
{"platform":"PacBio","sample":"HG00514","seg":"a","size_log":0,"count":186000},
{"platform":"PacBio","sample":"HG00514","seg":"a","size_log":0.11,"count":102000},
{"platform":"PacBio","sample":"HG00514","seg":"a","size_log":0.28,"count":57000},
{"platform":"PacBio","sample":"HG00514","seg":"a","size_log":0.39,"count":31000},
{"platform":"PacBio","sample":"HG00514","seg":"a","size_log":0.47,"count":15000},
{"platform":"PacBio","sample":"HG00514","seg":"a","size_log":0.57,"count":35000},
{"platform":"PacBio","sample":"HG00514","seg":"a","size_log":0.65,"count":10000},
{"platform":"PacBio","sample":"HG00514","seg":"a","size_log":0.72,"count":9000},
{"platform":"PacBio","sample":"HG00514","seg":"a","size_log":0.8,"count":12500},
{"platform":"PacBio","sample":"HG00514","seg":"a","size_log":0.85,"count":6500},
{"platform":"PacBio","sample":"HG00514","seg":"a","size_log":0.9,"count":9800},
{"platform":"PacBio","sample":"HG00514","seg":"a","size_log":0.97,"count":5500},
{"platform":"PacBio","sample":"HG00514","seg":"a","size_log":1.05,"count":6800},
{"platform":"PacBio","sample":"HG00514","seg":"a","size_log":1.1,"count":4000},
{"platform":"PacBio","sample":"HG00514","seg":"a","size_log":1.18,"count":5000},
{"platform":"PacBio","sample":"HG00514","seg":"a","size_log":1.26,"count":3800},
{"platform":"PacBio","sample":"HG00514","seg":"a","size_log":1.37,"count":2900},
{"platform":"PacBio","sample":"HG00514","seg":"a","size_log":1.47,"count":2100},
{"platform":"PacBio","sample":"HG00514","seg":"a","size_log":1.59,"count":1750},
{"platform":"PacBio","sample":"HG00514","seg":"a","size_log":1.75,"count":1300},
{"platform":"PacBio","sample":"HG00514","seg":"a","size_log":1.91,"count":1080},
{"platform":"PacBio","sample":"HG00514","seg":"a","size_log":2.08,"count":820},
{"platform":"PacBio","sample":"HG00514","seg":"a","size_log":2.24,"count":690},
{"platform":"PacBio","sample":"HG00514","seg":"a","size_log":2.36,"count":570},
{"platform":"PacBio","sample":"HG00514","seg":"a","size_log":2.41,"count":550},
{"platform":"PacBio","sample":"HG00514","seg":"a","size_log":2.46,"count":1150},
{"platform":"PacBio","sample":"HG00514","seg":"a","size_log":2.53,"count":430},
{"platform":"PacBio","sample":"HG00514","seg":"a","size_log":2.68,"count":330},
{"platform":"PacBio","sample":"HG00514","seg":"a","size_log":2.85,"count":235},
{"platform":"PacBio","sample":"HG00514","seg":"a","size_log":3.01,"count":150},
{"platform":"PacBio","sample":"HG00514","seg":"a","size_log":3.18,"count":115},
{"platform":"PacBio","sample":"HG00514","seg":"a","size_log":3.34,"count":85},
{"platform":"PacBio","sample":"HG00514","seg":"a","size_log":3.5,"count":60},
{"platform":"PacBio","sample":"HG00514","seg":"a","size_log":3.6,"count":40},
{"platform":"PacBio","sample":"HG00514","seg":"a","size_log":3.67,"count":24},
{"platform":"PacBio","sample":"HG00514","seg":"a","size_log":3.75,"count":38},
{"platform":"PacBio","sample":"HG00514","seg":"a","size_log":3.88,"count":20},
{"platform":"PacBio","sample":"HG00514","seg":"a","size_log":3.97,"count":9},
{"platform":"PacBio","sample":"HG00514","seg":"a","size_log":4.05,"count":5},
{"platform":"PacBio","sample":"HG00514","seg":"a","size_log":4.15,"count":2.4},
{"platform":"PacBio","sample":"HG00514","seg":"a","size_log":4.3,"count":2.2},
{"platform":"PacBio","sample":"HG00514","seg":"a","size_log":4.45,"count":1.5},
{"platform":"PacBio","sample":"HG00514","seg":"a","size_log":4.55,"count":1.3},
{"platform":"PacBio","sample":"HG00514","seg":"a","size_log":4.6,"count":1},
{"platform":"BioNano","sample":"NA19240","seg":"del","size_log":-6.4,"count":3},
{"platform":"BioNano","sample":"NA19240","seg":"del","size_log":-5.32,"count":3.9},
{"platform":"BioNano","sample":"NA19240","seg":"del","size_log":-5.16,"count":2.2},
{"platform":"BioNano","sample":"NA19240","seg":"del","size_log":-5.01,"count":3.6},
{"platform":"BioNano","sample":"NA19240","seg":"del","size_log":-4.84,"count":6.7},
{"platform":"BioNano","sample":"NA19240","seg":"del","size_log":-4.75,"count":14},
{"platform":"BioNano","sample":"NA19240","seg":"del","size_log":-4.66,"count":8.5},
{"platform":"BioNano","sample":"NA19240","seg":"del","size_log":-4.58,"count":12},
{"platform":"BioNano","sample":"NA19240","seg":"del","size_log":-4.47,"count":9},
{"platform":"BioNano","sample":"NA19240","seg":"del","size_log":-4.35,"count":14},
{"platform":"BioNano","sample":"NA19240","seg":"del","size_log":-4.26,"count":16},
{"platform":"BioNano","sample":"NA19240","seg":"del","size_log":-4.14,"count":48},
{"platform":"BioNano","sample":"NA19240","seg":"del","size_log":-4.03,"count":42},
{"platform":"BioNano","sample":"NA19240","seg":"del","size_log":-3.93,"count":78},
{"platform":"BioNano","sample":"NA19240","seg":"del","size_log":-3.83,"count":196},
{"platform":"BioNano","sample":"NA19240","seg":"del","size_log":-3.76,"count":120},
{"platform":"BioNano","sample":"NA19240","seg":"del","size_log":-3.65,"count":144},
{"platform":"BioNano","sample":"NA19240","seg":"del","size_log":-3.54,"count":185},
{"platform":"BioNano","sample":"NA19240","seg":"del","size_log":-3.37,"count":210},
{"platform":"BioNano","sample":"NA19240","seg":"del","size_log":-3.21,"count":196},
{"platform":"BioNano","sample":"NA19240","seg":"del","size_log":-3.11,"count":165},
{"platform":"BioNano","sample":"NA19240","seg":"del","size_log":-3.0,"count":128},
{"platform":"BioNano","sample":"NA19240","seg":"del","size_log":-2.91,"count":78},
{"platform":"BioNano","sample":"NA19240","seg":"del","size_log":-2.83,"count":42},
{"platform":"BioNano","sample":"NA19240","seg":"del","size_log":-2.78,"count":17},
{"platform":"BioNano","sample":"NA19240","seg":"del","size_log":-2.72,"count":7.6},
{"platform":"BioNano","sample":"NA19240","seg":"del","size_log":-2.67,"count":3.6},
{"platform":"BioNano","sample":"NA19240","seg":"del","size_log":-2.62,"count":1.7},
{"platform":"BioNano","sample":"NA19240","seg":"del","size_log":-2.55,"count":1},
{"platform":"BioNano","sample":"NA19240","seg":"ins","size_log":2.65,"count":3},
{"platform":"BioNano","sample":"NA19240","seg":"ins","size_log":2.72,"count":8},
{"platform":"BioNano","sample":"NA19240","seg":"ins","size_log":2.8,"count":20},
{"platform":"BioNano","sample":"NA19240","seg":"ins","size_log":2.9,"count":60},
{"platform":"BioNano","sample":"NA19240","seg":"ins","size_log":3.0,"count":110},
{"platform":"BioNano","sample":"NA19240","seg":"ins","size_log":3.12,"count":100},
{"platform":"BioNano","sample":"NA19240","seg":"ins","size_log":3.25,"count":90},
{"platform":"BioNano","sample":"NA19240","seg":"ins","size_log":3.4,"count":82},
{"platform":"BioNano","sample":"NA19240","seg":"ins","size_log":3.55,"count":60},
{"platform":"BioNano","sample":"NA19240","seg":"ins","size_log":3.67,"count":45},
{"platform":"BioNano","sample":"NA19240","seg":"ins","size_log":3.74,"count":100},
{"platform":"BioNano","sample":"NA19240","seg":"ins","size_log":3.8,"count":35},
{"platform":"BioNano","sample":"NA19240","seg":"ins","size_log":3.9,"count":20},
{"platform":"BioNano","sample":"NA19240","seg":"ins","size_log":4.05,"count":14},
{"platform":"BioNano","sample":"NA19240","seg":"ins","size_log":4.2,"count":10},
{"platform":"BioNano","sample":"NA19240","seg":"ins","size_log":4.35,"count":9},
{"platform":"BioNano","sample":"NA19240","seg":"ins","size_log":4.5,"count":7},
{"platform":"BioNano","sample":"NA19240","seg":"ins","size_log":4.65,"count":6},
{"platform":"BioNano","sample":"NA19240","seg":"ins","size_log":4.8,"count":5.4},
{"platform":"BioNano","sample":"NA19240","seg":"ins","size_log":4.95,"count":5},
{"platform":"BioNano","sample":"NA19240","seg":"ins","size_log":5.1,"count":4.6},
{"platform":"BioNano","sample":"NA19240","seg":"ins","size_log":5.25,"count":5},
{"platform":"BioNano","sample":"NA19240","seg":"ins","size_log":5.35,"count":3.2},
{"platform":"BioNano","sample":"NA19240","seg":"ins","size_log":5.45,"count":2},
{"platform":"BioNano","sample":"NA19240","seg":"ins","size_log":5.52,"count":1.3},
{"platform":"BioNano","sample":"NA19240","seg":"ins","size_log":5.57,"count":1},
{"platform":"BioNano","sample":"HG00733","seg":"del","size_log":-5.45,"count":1.6},
{"platform":"BioNano","sample":"HG00733","seg":"del","size_log":-5.3,"count":2.6},
{"platform":"BioNano","sample":"HG00733","seg":"del","size_log":-5.18,"count":2},
{"platform":"BioNano","sample":"HG00733","seg":"del","size_log":-5.05,"count":3.8},
{"platform":"BioNano","sample":"HG00733","seg":"del","size_log":-4.92,"count":4.6},
{"platform":"BioNano","sample":"HG00733","seg":"del","size_log":-4.8,"count":5.5},
{"platform":"BioNano","sample":"HG00733","seg":"del","size_log":-4.72,"count":15},
{"platform":"BioNano","sample":"HG00733","seg":"del","size_log":-4.64,"count":9},
{"platform":"BioNano","sample":"HG00733","seg":"del","size_log":-4.55,"count":13},
{"platform":"BioNano","sample":"HG00733","seg":"del","size_log":-4.45,"count":10},
{"platform":"BioNano","sample":"HG00733","seg":"del","size_log":-4.33,"count":15},
{"platform":"BioNano","sample":"HG00733","seg":"del","size_log":-4.22,"count":20},
{"platform":"BioNano","sample":"HG00733","seg":"del","size_log":-4.12,"count":55},
{"platform":"BioNano","sample":"HG00733","seg":"del","size_log":-4.02,"count":46},
{"platform":"BioNano","sample":"HG00733","seg":"del","size_log":-3.92,"count":85},
{"platform":"BioNano","sample":"HG00733","seg":"del","size_log":-3.84,"count":180},
{"platform":"BioNano","sample":"HG00733","seg":"del","size_log":-3.77,"count":125},
{"platform":"BioNano","sample":"HG00733","seg":"del","size_log":-3.66,"count":150},
{"platform":"BioNano","sample":"HG00733","seg":"del","size_log":-3.52,"count":175},
{"platform":"BioNano","sample":"HG00733","seg":"del","size_log":-3.37,"count":180},
{"platform":"BioNano","sample":"HG00733","seg":"del","size_log":-3.22,"count":175},
{"platform":"BioNano","sample":"HG00733","seg":"del","size_log":-3.1,"count":150},
{"platform":"BioNano","sample":"HG00733","seg":"del","size_log":-3.0,"count":115},
{"platform":"BioNano","sample":"HG00733","seg":"del","size_log":-2.9,"count":70},
{"platform":"BioNano","sample":"HG00733","seg":"del","size_log":-2.82,"count":35},
{"platform":"BioNano","sample":"HG00733","seg":"del","size_log":-2.76,"count":15},
{"platform":"BioNano","sample":"HG00733","seg":"del","size_log":-2.7,"count":6},
{"platform":"BioNano","sample":"HG00733","seg":"del","size_log":-2.62,"count":3},
{"platform":"BioNano","sample":"HG00733","seg":"del","size_log":-2.55,"count":1.6},
{"platform":"BioNano","sample":"HG00733","seg":"del","size_log":-2.45,"count":1.2},
{"platform":"BioNano","sample":"HG00733","seg":"del","size_log":-2.4,"count":1},
{"platform":"BioNano","sample":"HG00733","seg":"ins","size_log":2.6,"count":3.8},
{"platform":"BioNano","sample":"HG00733","seg":"ins","size_log":2.68,"count":9},
{"platform":"BioNano","sample":"HG00733","seg":"ins","size_log":2.77,"count":19},
{"platform":"BioNano","sample":"HG00733","seg":"ins","size_log":2.86,"count":51},
{"platform":"BioNano","sample":"HG00733","seg":"ins","size_log":3.01,"count":128},
{"platform":"BioNano","sample":"HG00733","seg":"ins","size_log":3.11,"count":106},
{"platform":"BioNano","sample":"HG00733","seg":"ins","size_log":3.22,"count":94},
{"platform":"BioNano","sample":"HG00733","seg":"ins","size_log":3.39,"count":88},
{"platform":"BioNano","sample":"HG00733","seg":"ins","size_log":3.55,"count":65},
{"platform":"BioNano","sample":"HG00733","seg":"ins","size_log":3.68,"count":48},
{"platform":"BioNano","sample":"HG00733","seg":"ins","size_log":3.76,"count":120},
{"platform":"BioNano","sample":"HG00733","seg":"ins","size_log":3.88,"count":23},
{"platform":"BioNano","sample":"HG00733","seg":"ins","size_log":3.99,"count":15},
{"platform":"BioNano","sample":"HG00733","seg":"ins","size_log":4.16,"count":12},
{"platform":"BioNano","sample":"HG00733","seg":"ins","size_log":4.32,"count":10},
{"platform":"BioNano","sample":"HG00733","seg":"ins","size_log":4.48,"count":8},
{"platform":"BioNano","sample":"HG00733","seg":"ins","size_log":4.65,"count":6.7},
{"platform":"BioNano","sample":"HG00733","seg":"ins","size_log":4.81,"count":6},
{"platform":"BioNano","sample":"HG00733","seg":"ins","size_log":4.98,"count":5.6},
{"platform":"BioNano","sample":"HG00733","seg":"ins","size_log":5.14,"count":5},
{"platform":"BioNano","sample":"HG00733","seg":"ins","size_log":5.24,"count":5.6},
{"platform":"BioNano","sample":"HG00733","seg":"ins","size_log":5.35,"count":3.6},
{"platform":"BioNano","sample":"HG00733","seg":"ins","size_log":5.43,"count":2.4},
{"platform":"BioNano","sample":"HG00733","seg":"ins","size_log":5.52,"count":1.6},
{"platform":"BioNano","sample":"HG00733","seg":"ins","size_log":5.56,"count":1.05},
{"platform":"BioNano","sample":"HG00514","seg":"del","size_log":-6.4,"count":2},
{"platform":"BioNano","sample":"HG00514","seg":"del","size_log":-5.48,"count":2},
{"platform":"BioNano","sample":"HG00514","seg":"del","size_log":-5.29,"count":3.9},
{"platform":"BioNano","sample":"HG00514","seg":"del","size_log":-5.16,"count":2.2},
{"platform":"BioNano","sample":"HG00514","seg":"del","size_log":-5.07,"count":4},
{"platform":"BioNano","sample":"HG00514","seg":"del","size_log":-4.96,"count":5},
{"platform":"BioNano","sample":"HG00514","seg":"del","size_log":-4.84,"count":3.6},
{"platform":"BioNano","sample":"HG00514","seg":"del","size_log":-4.75,"count":17},
{"platform":"BioNano","sample":"HG00514","seg":"del","size_log":-4.66,"count":11},
{"platform":"BioNano","sample":"HG00514","seg":"del","size_log":-4.58,"count":14},
{"platform":"BioNano","sample":"HG00514","seg":"del","size_log":-4.5,"count":10},
{"platform":"BioNano","sample":"HG00514","seg":"del","size_log":-4.42,"count":15},
{"platform":"BioNano","sample":"HG00514","seg":"del","size_log":-4.34,"count":12},
{"platform":"BioNano","sample":"HG00514","seg":"del","size_log":-4.26,"count":20},
{"platform":"BioNano","sample":"HG00514","seg":"del","size_log":-4.14,"count":58},
{"platform":"BioNano","sample":"HG00514","seg":"del","size_log":-4.03,"count":48},
{"platform":"BioNano","sample":"HG00514","seg":"del","size_log":-3.98,"count":78},
{"platform":"BioNano","sample":"HG00514","seg":"del","size_log":-3.86,"count":120},
{"platform":"BioNano","sample":"HG00514","seg":"del","size_log":-3.81,"count":190},
{"platform":"BioNano","sample":"HG00514","seg":"del","size_log":-3.76,"count":130},
{"platform":"BioNano","sample":"HG00514","seg":"del","size_log":-3.65,"count":144},
{"platform":"BioNano","sample":"HG00514","seg":"del","size_log":-3.54,"count":165},
{"platform":"BioNano","sample":"HG00514","seg":"del","size_log":-3.37,"count":144},
{"platform":"BioNano","sample":"HG00514","seg":"del","size_log":-3.21,"count":144},
{"platform":"BioNano","sample":"HG00514","seg":"del","size_log":-3.11,"count":130},
{"platform":"BioNano","sample":"HG00514","seg":"del","size_log":-3.0,"count":105},
{"platform":"BioNano","sample":"HG00514","seg":"del","size_log":-2.91,"count":58},
{"platform":"BioNano","sample":"HG00514","seg":"del","size_log":-2.83,"count":31},
{"platform":"BioNano","sample":"HG00514","seg":"del","size_log":-2.75,"count":14},
{"platform":"BioNano","sample":"HG00514","seg":"del","size_log":-2.67,"count":6.7},
{"platform":"BioNano","sample":"HG00514","seg":"del","size_log":-2.59,"count":3.6},
{"platform":"BioNano","sample":"HG00514","seg":"del","size_log":-2.5,"count":2},
{"platform":"BioNano","sample":"HG00514","seg":"del","size_log":-2.45,"count":1},
{"platform":"BioNano","sample":"HG00514","seg":"ins","size_log":2.62,"count":4.4},
{"platform":"BioNano","sample":"HG00514","seg":"ins","size_log":2.68,"count":9},
{"platform":"BioNano","sample":"HG00514","seg":"ins","size_log":2.77,"count":19},
{"platform":"BioNano","sample":"HG00514","seg":"ins","size_log":2.86,"count":51},
{"platform":"BioNano","sample":"HG00514","seg":"ins","size_log":3.0,"count":135},
{"platform":"BioNano","sample":"HG00514","seg":"ins","size_log":3.1,"count":110},
{"platform":"BioNano","sample":"HG00514","seg":"ins","size_log":3.2,"count":96},
{"platform":"BioNano","sample":"HG00514","seg":"ins","size_log":3.38,"count":90},
{"platform":"BioNano","sample":"HG00514","seg":"ins","size_log":3.53,"count":68},
{"platform":"BioNano","sample":"HG00514","seg":"ins","size_log":3.66,"count":50},
{"platform":"BioNano","sample":"HG00514","seg":"ins","size_log":3.76,"count":125},
{"platform":"BioNano","sample":"HG00514","seg":"ins","size_log":3.86,"count":25},
{"platform":"BioNano","sample":"HG00514","seg":"ins","size_log":3.98,"count":16},
{"platform":"BioNano","sample":"HG00514","seg":"ins","size_log":4.14,"count":13},
{"platform":"BioNano","sample":"HG00514","seg":"ins","size_log":4.3,"count":10.5},
{"platform":"BioNano","sample":"HG00514","seg":"ins","size_log":4.46,"count":8.5},
{"platform":"BioNano","sample":"HG00514","seg":"ins","size_log":4.63,"count":7},
{"platform":"BioNano","sample":"HG00514","seg":"ins","size_log":4.8,"count":6.2},
{"platform":"BioNano","sample":"HG00514","seg":"ins","size_log":4.96,"count":5.8},
{"platform":"BioNano","sample":"HG00514","seg":"ins","size_log":5.12,"count":5.2},
{"platform":"BioNano","sample":"HG00514","seg":"ins","size_log":5.22,"count":5.8},
{"platform":"BioNano","sample":"HG00514","seg":"ins","size_log":5.33,"count":3.8},
{"platform":"BioNano","sample":"HG00514","seg":"ins","size_log":5.42,"count":2.6},
{"platform":"BioNano","sample":"HG00514","seg":"ins","size_log":5.5,"count":1.7},
{"platform":"BioNano","sample":"HG00514","seg":"ins","size_log":5.55,"count":1.05},
{"platform":"1KGP Phase3","sample":"NA19240","seg":"del","size_log":-5.45,"count":0.9},
{"platform":"1KGP Phase3","sample":"NA19240","seg":"del","size_log":-5.29,"count":1.05},
{"platform":"1KGP Phase3","sample":"NA19240","seg":"del","size_log":-5.17,"count":1.2},
{"platform":"1KGP Phase3","sample":"NA19240","seg":"del","size_log":-5.01,"count":1.6},
{"platform":"1KGP Phase3","sample":"NA19240","seg":"del","size_log":-4.84,"count":2},
{"platform":"1KGP Phase3","sample":"NA19240","seg":"del","size_log":-4.68,"count":3},
{"platform":"1KGP Phase3","sample":"NA19240","seg":"del","size_log":-4.52,"count":3.6},
{"platform":"1KGP Phase3","sample":"NA19240","seg":"del","size_log":-4.42,"count":3.2},
{"platform":"1KGP Phase3","sample":"NA19240","seg":"del","size_log":-4.3,"count":4.4},
{"platform":"1KGP Phase3","sample":"NA19240","seg":"del","size_log":-4.19,"count":3},
{"platform":"1KGP Phase3","sample":"NA19240","seg":"del","size_log":-4.09,"count":6.7},
{"platform":"1KGP Phase3","sample":"NA19240","seg":"del","size_log":-3.98,"count":10},
{"platform":"1KGP Phase3","sample":"NA19240","seg":"del","size_log":-3.93,"count":20},
{"platform":"1KGP Phase3","sample":"NA19240","seg":"del","size_log":-3.81,"count":37},
{"platform":"1KGP Phase3","sample":"NA19240","seg":"del","size_log":-3.73,"count":20},
{"platform":"1KGP Phase3","sample":"NA19240","seg":"del","size_log":-3.65,"count":31},
{"platform":"1KGP Phase3","sample":"NA19240","seg":"del","size_log":-3.6,"count":12},
{"platform":"1KGP Phase3","sample":"NA19240","seg":"del","size_log":-3.54,"count":28},
{"platform":"1KGP Phase3","sample":"NA19240","seg":"del","size_log":-3.37,"count":31},
{"platform":"1KGP Phase3","sample":"NA19240","seg":"del","size_log":-3.21,"count":29},
{"platform":"1KGP Phase3","sample":"NA19240","seg":"del","size_log":-3.04,"count":28},
{"platform":"1KGP Phase3","sample":"NA19240","seg":"del","size_log":-2.88,"count":31},
{"platform":"1KGP Phase3","sample":"NA19240","seg":"del","size_log":-2.72,"count":23},
{"platform":"1KGP Phase3","sample":"NA19240","seg":"del","size_log":-2.62,"count":105},
{"platform":"1KGP Phase3","sample":"NA19240","seg":"del","size_log":-2.55,"count":560},
{"platform":"1KGP Phase3","sample":"NA19240","seg":"del","size_log":-2.47,"count":58},
{"platform":"1KGP Phase3","sample":"NA19240","seg":"del","size_log":-2.39,"count":23},
{"platform":"1KGP Phase3","sample":"NA19240","seg":"del","size_log":-2.29,"count":17},
{"platform":"1KGP Phase3","sample":"NA19240","seg":"del","size_log":-2.18,"count":23},
{"platform":"1KGP Phase3","sample":"NA19240","seg":"del","size_log":-2.06,"count":26},
{"platform":"1KGP Phase3","sample":"NA19240","seg":"del","size_log":-1.96,"count":28},
{"platform":"1KGP Phase3","sample":"NA19240","seg":"del","size_log":-1.85,"count":42},
{"platform":"1KGP Phase3","sample":"NA19240","seg":"del","size_log":-1.77,"count":78},
{"platform":"1KGP Phase3","sample":"NA19240","seg":"ins","size_log":1.96,"count":3.6},
{"platform":"1KGP Phase3","sample":"NA19240","seg":"ins","size_log":2.08,"count":8},
{"platform":"1KGP Phase3","sample":"NA19240","seg":"ins","size_log":2.13,"count":5},
{"platform":"1KGP Phase3","sample":"NA19240","seg":"ins","size_log":2.19,"count":10},
{"platform":"1KGP Phase3","sample":"NA19240","seg":"ins","size_log":2.27,"count":11},
{"platform":"1KGP Phase3","sample":"NA19240","seg":"ins","size_log":2.36,"count":19},
{"platform":"1KGP Phase3","sample":"NA19240","seg":"ins","size_log":2.41,"count":910},
{"platform":"1KGP Phase3","sample":"NA19240","seg":"ins","size_log":2.45,"count":19},
{"platform":"1KGP Phase3","sample":"NA19240","seg":"ins","size_log":2.49,"count":3.6},
{"platform":"1KGP Phase3","sample":"NA19240","seg":"ins","size_log":2.57,"count":10},
{"platform":"1KGP Phase3","sample":"NA19240","seg":"ins","size_log":2.65,"count":3.6},
{"platform":"1KGP Phase3","sample":"NA19240","seg":"ins","size_log":2.73,"count":14},
{"platform":"1KGP Phase3","sample":"NA19240","seg":"ins","size_log":2.82,"count":3.6},
{"platform":"1KGP Phase3","sample":"NA19240","seg":"ins","size_log":2.9,"count":12},
{"platform":"1KGP Phase3","sample":"NA19240","seg":"ins","size_log":2.98,"count":3.6},
{"platform":"1KGP Phase3","sample":"NA19240","seg":"ins","size_log":3.06,"count":15},
{"platform":"1KGP Phase3","sample":"NA19240","seg":"ins","size_log":3.14,"count":3.6},
{"platform":"1KGP Phase3","sample":"NA19240","seg":"ins","size_log":3.22,"count":10},
{"platform":"1KGP Phase3","sample":"NA19240","seg":"ins","size_log":3.31,"count":3.6},
{"platform":"1KGP Phase3","sample":"NA19240","seg":"ins","size_log":3.39,"count":6.7},
{"platform":"1KGP Phase3","sample":"NA19240","seg":"ins","size_log":3.5,"count":3.6},
{"platform":"1KGP Phase3","sample":"NA19240","seg":"ins","size_log":3.58,"count":5.6},
{"platform":"1KGP Phase3","sample":"NA19240","seg":"ins","size_log":3.67,"count":8},
{"platform":"1KGP Phase3","sample":"NA19240","seg":"ins","size_log":3.75,"count":4.4},
{"platform":"1KGP Phase3","sample":"NA19240","seg":"ins","size_log":3.8,"count":78},
{"platform":"1KGP Phase3","sample":"NA19240","seg":"ins","size_log":3.83,"count":3.6},
{"platform":"1KGP Phase3","sample":"NA19240","seg":"ins","size_log":3.93,"count":10},
{"platform":"1KGP Phase3","sample":"NA19240","seg":"ins","size_log":4.04,"count":3.6},
{"platform":"1KGP Phase3","sample":"NA19240","seg":"ins","size_log":4.16,"count":9},
{"platform":"1KGP Phase3","sample":"NA19240","seg":"ins","size_log":4.26,"count":4.4},
{"platform":"1KGP Phase3","sample":"NA19240","seg":"ins","size_log":4.37,"count":12},
{"platform":"1KGP Phase3","sample":"NA19240","seg":"ins","size_log":4.48,"count":4.4},
{"platform":"1KGP Phase3","sample":"NA19240","seg":"ins","size_log":4.58,"count":10},
{"platform":"1KGP Phase3","sample":"NA19240","seg":"ins","size_log":4.7,"count":3.6},
{"platform":"1KGP Phase3","sample":"NA19240","seg":"ins","size_log":4.81,"count":8},
{"platform":"1KGP Phase3","sample":"NA19240","seg":"ins","size_log":4.91,"count":3.6},
{"platform":"1KGP Phase3","sample":"NA19240","seg":"ins","size_log":5.02,"count":5.6},
{"platform":"1KGP Phase3","sample":"NA19240","seg":"ins","size_log":5.14,"count":3},
{"platform":"1KGP Phase3","sample":"NA19240","seg":"ins","size_log":5.24,"count":2.4},
{"platform":"1KGP Phase3","sample":"NA19240","seg":"ins","size_log":5.35,"count":1.6},
{"platform":"1KGP Phase3","sample":"NA19240","seg":"ins","size_log":5.43,"count":1.05},
{"platform":"1KGP Phase3","sample":"HG00733","seg":"del","size_log":-5.4,"count":1.1},
{"platform":"1KGP Phase3","sample":"HG00733","seg":"del","size_log":-5.2,"count":1.4},
{"platform":"1KGP Phase3","sample":"HG00733","seg":"del","size_log":-5.0,"count":1.8},
{"platform":"1KGP Phase3","sample":"HG00733","seg":"del","size_log":-4.8,"count":2.4},
{"platform":"1KGP Phase3","sample":"HG00733","seg":"del","size_log":-4.6,"count":3.4},
{"platform":"1KGP Phase3","sample":"HG00733","seg":"del","size_log":-4.45,"count":4},
{"platform":"1KGP Phase3","sample":"HG00733","seg":"del","size_log":-4.3,"count":3.5},
{"platform":"1KGP Phase3","sample":"HG00733","seg":"del","size_log":-4.15,"count":5},
{"platform":"1KGP Phase3","sample":"HG00733","seg":"del","size_log":-4.05,"count":8},
{"platform":"1KGP Phase3","sample":"HG00733","seg":"del","size_log":-3.95,"count":15},
{"platform":"1KGP Phase3","sample":"HG00733","seg":"del","size_log":-3.85,"count":25},
{"platform":"1KGP Phase3","sample":"HG00733","seg":"del","size_log":-3.78,"count":45},
{"platform":"1KGP Phase3","sample":"HG00733","seg":"del","size_log":-3.7,"count":24},
{"platform":"1KGP Phase3","sample":"HG00733","seg":"del","size_log":-3.6,"count":26},
{"platform":"1KGP Phase3","sample":"HG00733","seg":"del","size_log":-3.5,"count":22},
{"platform":"1KGP Phase3","sample":"HG00733","seg":"del","size_log":-3.35,"count":25},
{"platform":"1KGP Phase3","sample":"HG00733","seg":"del","size_log":-3.2,"count":24},
{"platform":"1KGP Phase3","sample":"HG00733","seg":"del","size_log":-3.05,"count":26},
{"platform":"1KGP Phase3","sample":"HG00733","seg":"del","size_log":-2.9,"count":25},
{"platform":"1KGP Phase3","sample":"HG00733","seg":"del","size_log":-2.75,"count":27},
{"platform":"1KGP Phase3","sample":"HG00733","seg":"del","size_log":-2.63,"count":90},
{"platform":"1KGP Phase3","sample":"HG00733","seg":"del","size_log":-2.56,"count":450},
{"platform":"1KGP Phase3","sample":"HG00733","seg":"del","size_log":-2.48,"count":50},
{"platform":"1KGP Phase3","sample":"HG00733","seg":"del","size_log":-2.4,"count":20},
{"platform":"1KGP Phase3","sample":"HG00733","seg":"del","size_log":-2.3,"count":19},
{"platform":"1KGP Phase3","sample":"HG00733","seg":"del","size_log":-2.2,"count":20},
{"platform":"1KGP Phase3","sample":"HG00733","seg":"del","size_log":-2.08,"count":22},
{"platform":"1KGP Phase3","sample":"HG00733","seg":"del","size_log":-1.98,"count":24},
{"platform":"1KGP Phase3","sample":"HG00733","seg":"del","size_log":-1.88,"count":35},
{"platform":"1KGP Phase3","sample":"HG00733","seg":"del","size_log":-1.78,"count":60},
{"platform":"1KGP Phase3","sample":"HG00733","seg":"ins","size_log":1.98,"count":3},
{"platform":"1KGP Phase3","sample":"HG00733","seg":"ins","size_log":2.05,"count":6},
{"platform":"1KGP Phase3","sample":"HG00733","seg":"ins","size_log":2.12,"count":9},
{"platform":"1KGP Phase3","sample":"HG00733","seg":"ins","size_log":2.2,"count":7},
{"platform":"1KGP Phase3","sample":"HG00733","seg":"ins","size_log":2.28,"count":14},
{"platform":"1KGP Phase3","sample":"HG00733","seg":"ins","size_log":2.35,"count":12},
{"platform":"1KGP Phase3","sample":"HG00733","seg":"ins","size_log":2.4,"count":700},
{"platform":"1KGP Phase3","sample":"HG00733","seg":"ins","size_log":2.44,"count":15},
{"platform":"1KGP Phase3","sample":"HG00733","seg":"ins","size_log":2.5,"count":5},
{"platform":"1KGP Phase3","sample":"HG00733","seg":"ins","size_log":2.55,"count":12},
{"platform":"1KGP Phase3","sample":"HG00733","seg":"ins","size_log":2.62,"count":4},
{"platform":"1KGP Phase3","sample":"HG00733","seg":"ins","size_log":2.7,"count":11},
{"platform":"1KGP Phase3","sample":"HG00733","seg":"ins","size_log":2.78,"count":4.4},
{"platform":"1KGP Phase3","sample":"HG00733","seg":"ins","size_log":2.86,"count":14},
{"platform":"1KGP Phase3","sample":"HG00733","seg":"ins","size_log":2.95,"count":4},
{"platform":"1KGP Phase3","sample":"HG00733","seg":"ins","size_log":3.03,"count":12},
{"platform":"1KGP Phase3","sample":"HG00733","seg":"ins","size_log":3.11,"count":4},
{"platform":"1KGP Phase3","sample":"HG00733","seg":"ins","size_log":3.2,"count":13},
{"platform":"1KGP Phase3","sample":"HG00733","seg":"ins","size_log":3.28,"count":4.4},
{"platform":"1KGP Phase3","sample":"HG00733","seg":"ins","size_log":3.36,"count":9},
{"platform":"1KGP Phase3","sample":"HG00733","seg":"ins","size_log":3.46,"count":4},
{"platform":"1KGP Phase3","sample":"HG00733","seg":"ins","size_log":3.55,"count":7},
{"platform":"1KGP Phase3","sample":"HG00733","seg":"ins","size_log":3.63,"count":5},
{"platform":"1KGP Phase3","sample":"HG00733","seg":"ins","size_log":3.72,"count":9},
{"platform":"1KGP Phase3","sample":"HG00733","seg":"ins","size_log":3.79,"count":60},
{"platform":"1KGP Phase3","sample":"HG00733","seg":"ins","size_log":3.85,"count":5},
{"platform":"1KGP Phase3","sample":"HG00733","seg":"ins","size_log":3.95,"count":12},
{"platform":"1KGP Phase3","sample":"HG00733","seg":"ins","size_log":4.06,"count":4},
{"platform":"1KGP Phase3","sample":"HG00733","seg":"ins","size_log":4.14,"count":11},
{"platform":"1KGP Phase3","sample":"HG00733","seg":"ins","size_log":4.24,"count":5},
{"platform":"1KGP Phase3","sample":"HG00733","seg":"ins","size_log":4.35,"count":9},
{"platform":"1KGP Phase3","sample":"HG00733","seg":"ins","size_log":4.45,"count":5},
{"platform":"1KGP Phase3","sample":"HG00733","seg":"ins","size_log":4.55,"count":12},
{"platform":"1KGP Phase3","sample":"HG00733","seg":"ins","size_log":4.68,"count":4},
{"platform":"1KGP Phase3","sample":"HG00733","seg":"ins","size_log":4.78,"count":10},
{"platform":"1KGP Phase3","sample":"HG00733","seg":"ins","size_log":4.9,"count":4},
{"platform":"1KGP Phase3","sample":"HG00733","seg":"ins","size_log":5.0,"count":6},
{"platform":"1KGP Phase3","sample":"HG00733","seg":"ins","size_log":5.1,"count":3.4},
{"platform":"1KGP Phase3","sample":"HG00733","seg":"ins","size_log":5.22,"count":2.6},
{"platform":"1KGP Phase3","sample":"HG00733","seg":"ins","size_log":5.32,"count":1.8},
{"platform":"1KGP Phase3","sample":"HG00733","seg":"ins","size_log":5.42,"count":1.1}
  ]
},
"encoding": {
  "x": {"field": "size_log", "type": "quantitative",
    "scale": {"domain": [-6, 6], "nice": false, "zero": false},
    "axis": {"title": "SV Size", "values": [-6, -4, -2, 0, 2, 4, 6],
      "labelExpr": "datum.value == -6 ? '−1Mb' : datum.value == -4 ? '−10Kb' : datum.value == -2 ? '−100bp' : datum.value == 0 ? '−1(1)bp' : datum.value == 2 ? '100bp' : datum.value == 4 ? '10Kb' : '1Mb'",
      "grid": false, "labelFlush": false, "labelOverlap": false, "labelBound": false,
      "labelFontSize": 23, "labelColor": "#1a1a1a", "labelPadding": 10, "tickSize": 6, "tickColor": "#111", "tickWidth": 1.3,
      "domainColor": "#111", "domainWidth": 1.5,
      "titleFontSize": 31, "titleFontWeight": "normal", "titleColor": "#1a1a1a", "titlePadding": 21}},
  "y": {"field": "count", "type": "quantitative",
    "scale": {"type": "log", "domain": [1, 1000000], "nice": false},
    "axis": {"title": "count of SVs", "values": [1, 100, 10000, 1000000],
      "labelExpr": "datum.value == 1 ? '1' : datum.value == 100 ? '1e+02' : datum.value == 10000 ? '1e+04' : '1e+06'",
      "grid": false, "offset": 23, "labelFlush": false, "labelOverlap": false, "labelBound": false,
      "labelFontSize": 23, "labelColor": "#1a1a1a", "labelPadding": 10, "tickSize": 6, "tickColor": "#111", "tickWidth": 1.3,
      "domainColor": "#111", "domainWidth": 1.5,
      "titleFontSize": 29, "titleFontWeight": "normal", "titleColor": "#1a1a1a", "titlePadding": 20}}
},
"layer": [
  {"data": {"name": "bands"},
   "mark": {"type": "rect"},
   "encoding": {
     "x2": {"field": "size_log_end"},
     "y2": {"field": "count_end"},
     "color": {"field": "region", "type": "nominal", "scale": {"domain": ["deletions", "insertions"], "range": ["#F8D2D8", "#D5DAE9"]}, "legend": null}
   }},
  {"data": {"name": "lines"},
   "transform": [{"filter": "datum.platform === '1KGP Phase3'"}],
   "mark": {"type": "line", "strokeWidth": 2.2, "strokeJoin": "round"},
   "encoding": {
     "detail": [{"field": "sample"}, {"field": "seg"}],
     "color": {"field": "platform", "type": "nominal", "scale": {"domain": ["1KGP Phase3"], "range": ["#C4C4C4"]},
       "legend": {"title": null, "legendX": 827, "legendY": 214, "labelFontSize": 14.5}}
   }},
  {"data": {"name": "lines"},
   "transform": [{"filter": "datum.platform === 'PacBio'"}],
   "mark": {"type": "line", "strokeWidth": 2.2, "strokeJoin": "round"},
   "encoding": {
     "detail": {"field": "seg"},
     "color": {"field": "sample", "type": "nominal", "sort": null, "scale": {"domain": ["NA19240", "HG00733", "HG00514"], "range": ["#5E4FA2", "#3288BD", "#66C2A5"]},
       "legend": {"title": "PacBio", "legendX": 827, "legendY": 44}}
   }},
  {"data": {"name": "lines"},
   "transform": [{"filter": "datum.platform === 'Illumina'"}],
   "mark": {"type": "line", "strokeWidth": 2.2, "strokeJoin": "round"},
   "encoding": {
     "detail": {"field": "seg"},
     "color": {"field": "sample", "type": "nominal", "sort": null, "scale": {"domain": ["NA19240", "HG00733", "HG00514"], "range": ["#9E1A42", "#E8603F", "#F6AE62"]},
       "legend": {"title": "Illumina", "legendX": 827, "legendY": -31}}
   }},
  {"data": {"name": "lines"},
   "transform": [{"filter": "datum.platform === 'BioNano'"}],
   "mark": {"type": "line", "strokeWidth": 2.2, "strokeJoin": "round"},
   "encoding": {
     "detail": {"field": "seg"},
     "color": {"field": "sample", "type": "nominal", "sort": null, "scale": {"domain": ["NA19240", "HG00733", "HG00514"], "range": ["#6E2C14", "#B45A26", "#E78B2F"]},
       "legend": {"title": "BioNano", "legendX": 827, "legendY": 120}}
   }}
],
"resolve": {"scale": {"color": "independent"}}
}
